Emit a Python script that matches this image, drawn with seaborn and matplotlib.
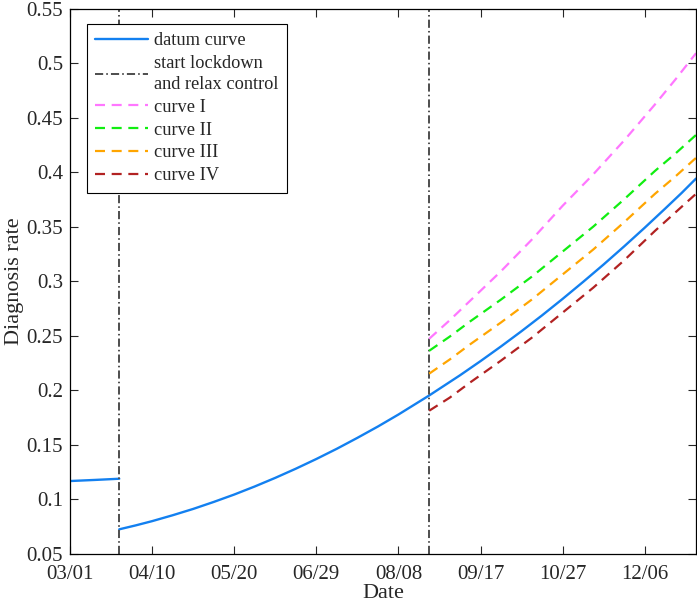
import numpy as np
import pandas as pd
import matplotlib
matplotlib.use("Agg")
import matplotlib.pyplot as plt
import seaborn as sns

# days counted from 03/01
pre_days = [0, 12, 24]
pre_rate = [0.1165, 0.1175, 0.1186]

datum_days = [24, 32, 40, 50, 60, 70, 80, 90, 100, 110, 120, 130, 140, 150, 160, 175,
              190, 200, 210, 220, 230, 240, 250, 260, 270, 280, 290, 298, 305]
datum_rate = [0.0722, 0.0758, 0.0797, 0.0851, 0.0909, 0.0973, 0.1041, 0.1115, 0.1194,
              0.1278, 0.1367, 0.1461, 0.1561, 0.1665, 0.1775, 0.1950,
              0.2135, 0.2265, 0.2400, 0.2540, 0.2685, 0.2836, 0.2992, 0.3152, 0.3318,
              0.3489, 0.3665, 0.3808, 0.3940]

scen_days = [175, 185, 195, 210, 225, 240, 255, 270, 285, 295, 305]
curve_1 = [0.247, 0.264, 0.282, 0.309, 0.338, 0.369, 0.398, 0.429, 0.462, 0.485, 0.509]
curve_2 = [0.236, 0.249, 0.263, 0.283, 0.304, 0.327, 0.350, 0.375, 0.401, 0.417, 0.434]
curve_3 = [0.215, 0.228, 0.242, 0.262, 0.283, 0.306, 0.329, 0.354, 0.380, 0.396, 0.413]
curve_4 = [0.181, 0.193, 0.207, 0.227, 0.248, 0.271, 0.294, 0.319, 0.346, 0.363, 0.380]

event_days = [24, 175]
tick_days = [0, 40, 80, 120, 160, 200, 240, 280]
tick_labels = ["03/01", "04/10", "05/20", "06/29", "08/08", "09/17", "10/27", "12/06"]

sns.set_style("ticks")
plt.rcParams['font.family'] = ['Liberation Serif', 'DejaVu Serif']
plt.rcParams['font.size'] = 12

fig = plt.figure(figsize=(6.97, 6.08), dpi=100)
ax = fig.add_axes([0.1004, 0.0896, 0.8982, 0.8964])

blue = "#1380F0"
sns.lineplot(x=pre_days, y=pre_rate, color=blue, lw=1.7, ax=ax)
sns.lineplot(x=datum_days, y=datum_rate, color=blue, lw=1.7, ax=ax)

vdash = (4.2, 1.6, 0.8, 1.6)
for d in event_days:
    ax.axvline(d, color="#4d4d4d", lw=1.4, dashes=vdash)
vl = plt.Line2D([], [], color="#4d4d4d", lw=1.4, dashes=vdash)

scen = [(curve_1, "#FF77FF", "curve I"), (curve_2, "#11EE11", "curve II"),
        (curve_3, "#FFA500", "curve III"), (curve_4, "#B22222", "curve IV")]
handles = []
for vals, c, name in scen:
    sns.lineplot(x=scen_days, y=vals, color=c, lw=1.6, ax=ax)
    ax.lines[-1].set_dashes((4.5, 3))
    handles.append(plt.Line2D([], [], color=c, lw=1.6, dashes=(4.5, 3)))

h_datum = plt.Line2D([], [], color=blue, lw=1.7)
leg = ax.legend([h_datum, vl] + handles,
                ["datum curve", "start lockdown\nand relax control", "curve I", "curve II", "curve III", "curve IV"],
                loc="upper left", bbox_to_anchor=(0.027, 0.972), frameon=True, fancybox=False,
                edgecolor="black", framealpha=1, handlelength=2.9, fontsize=13.2,
                borderpad=0.45, labelspacing=0.32, handletextpad=0.3, borderaxespad=0)
leg.get_frame().set_linewidth(0.8)
for t in leg.get_texts():
    t.set_linespacing(1.3)

ax.set_xlim(0, 305)
ax.set_ylim(0.05, 0.55)
ax.set_xticks(tick_days)
ax.set_xticklabels(tick_labels)
ax.set_yticks(np.arange(0.05, 0.551, 0.05))
ax.set_yticklabels(["0.05", "0.1", "0.15", "0.2", "0.25", "0.3", "0.35", "0.4", "0.45", "0.5", "0.55"])
ax.tick_params(direction="in", top=True, right=True, labelsize=15, length=6, width=0.8, pad=5)
ax.tick_params(axis="x", pad=8)
for s in ax.spines.values():
    s.set_linewidth(0.9)
    s.set_color("black")
ax.set_xlabel("Date", fontsize=16, labelpad=0)
ax.set_ylabel("Diagnosis rate", fontsize=16, labelpad=2)

fig.savefig("out.png", dpi=100)
